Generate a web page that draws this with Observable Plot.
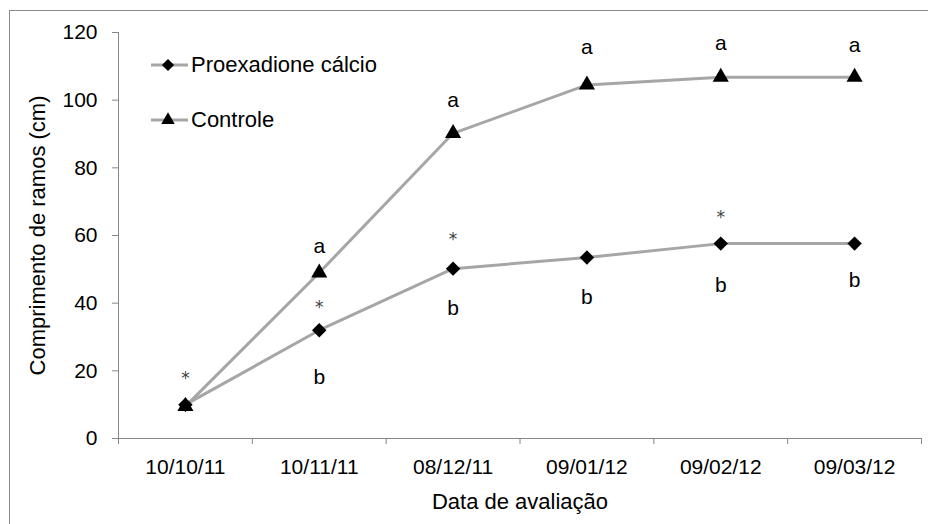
<!DOCTYPE html>
<html>
<head>
<meta charset="utf-8">
<script src="https://cdn.jsdelivr.net/npm/d3@7"></script>
<script src="https://cdn.jsdelivr.net/npm/@observablehq/plot@0.6"></script>
<style>
  html, body { margin: 0; padding: 0; background: #fff; }
  #wrap { position: relative; width: 928px; height: 524px; overflow: hidden; font-family: "Liberation Sans", Arial, sans-serif; }
  #border { position: absolute; left: 9px; top: 10px; width: 940px; height: 540px; border-left: 1px solid #8c8c8c; border-top: 1px solid #8c8c8c; }
  #chart { position: absolute; left: 0; top: 0; }
  .leg { position: absolute; left: 151px; height: 24px; display: flex; align-items: center; font-size: 22px; color: #000; white-space: nowrap; }
  .leg span { margin-left: 3px; }
</style>
</head>
<body>
<div id="wrap">
  <div id="border"></div>
  <div id="chart"></div>
  <div class="leg" id="leg1" style="top:53px"></div>
  <div class="leg" id="leg2" style="top:108px"></div>
</div>
<script>
// ---- data ----
const dates = ["10/10/11", "10/11/11", "08/12/11", "09/01/12", "09/02/12", "09/03/12"];
const proexadione = [10, 32, 50.2, 53.5, 57.6, 57.6];
const controle = [9.5, 49, 90.2, 104.5, 106.8, 106.8];
const seriesNames = ["Proexadione cálcio", "Controle"];

// significance asterisks (date, y position)
const sigDates = ["10/10/11", "10/11/11", "08/12/11", "09/02/12"];
const sigY = [19, 40, 60, 66.5];

// letters
const aDates = ["10/11/11", "08/12/11", "09/01/12", "09/02/12", "09/03/12"];
const aY = [56.8, 99.9, 115.6, 116.8, 116.2];
const bDates = ["10/11/11", "08/12/11", "09/01/12", "09/02/12", "09/03/12"];
const bY = [18, 38.4, 41.7, 45.2, 46.7];

const yTicks = [0, 20, 40, 60, 80, 100, 120];
const yLabel = "Comprimento de ramos (cm)";
const xLabel = "Data de avaliação";

// ---- build tables ----
const idx = d => dates.indexOf(d);
const rows = [];
dates.forEach((d, i) => {
  rows.push({s: seriesNames[0], i, v: proexadione[i]});
  rows.push({s: seriesNames[1], i, v: controle[i]});
});
const sig = sigDates.map((d, k) => ({i: idx(d), y: sigY[k]}));
const aLab = aDates.map((d, k) => ({i: idx(d), y: aY[k], t: "a"}));
const bLab = bDates.map((d, k) => ({i: idx(d), y: bY[k], t: "b"}));
const boundaries = d3.range(0, dates.length + 1).map(k => k - 0.5);
const centers = d3.range(0, dates.length);

const lineColor = "#a6a6a6";
const axisColor = "#868686";

const chart = Plot.plot({
  width: 928,
  height: 524,
  marginLeft: 118,
  marginRight: 7,
  marginTop: 32,
  marginBottom: 86,
  style: {fontFamily: "'Liberation Sans', Arial, sans-serif", fontSize: "21px", color: "#000", background: "transparent"},
  x: {domain: [-0.5, dates.length - 0.5], axis: null},
  y: {domain: [0, 120], axis: null},
  marks: [
    Plot.ruleX([-0.5], {stroke: axisColor, strokeWidth: 1}),
    Plot.ruleY([0], {stroke: axisColor, strokeWidth: 1}),
    Plot.axisY({ticks: yTicks, tickSize: 6, tickPadding: 15, stroke: axisColor, fill: "#000", fontSize: 21, label: null}),
    Plot.axisX({ticks: boundaries, tickSize: 6, tickFormat: () => "", stroke: axisColor, label: null}),
    Plot.axisX({ticks: centers, tickSize: 0, tickPadding: 21, tickFormat: i => dates[i], fill: "#000", fontSize: 21, label: null}),
    Plot.text([yLabel], {frameAnchor: "left", textAnchor: "middle", dx: -81, rotate: -90, fontSize: 22, fill: "#000"}),
    Plot.text([xLabel], {frameAnchor: "bottom", textAnchor: "middle", dy: 70, fontSize: 22, fill: "#000"}),
    Plot.line(rows, {x: "i", y: "v", z: "s", stroke: lineColor, strokeWidth: 3}),
    Plot.dot(rows.filter(r => r.s === seriesNames[1]), {x: "i", y: "v", symbol: "triangle", r: 6, fill: "#000", stroke: "none"}),
    Plot.dot(rows.filter(r => r.s === seriesNames[0]), {x: "i", y: "v", symbol: "diamond2", r: 6.5, fill: "#000", stroke: "none"}),
    Plot.text(sig, {x: "i", y: "y", text: () => "*", fontSize: 17, fontFamily: "'DejaVu Sans', sans-serif", dy: 4, fill: "#404040"}),
    Plot.text(aLab, {x: "i", y: "y", text: "t", fontSize: 21, fill: "#000"}),
    Plot.text(bLab, {x: "i", y: "y", text: "t", fontSize: 21, fill: "#000"})
  ]
});
document.getElementById("chart").appendChild(chart);

// ---- legend ----
function legendItem(el, name, symbol, size) {
  const svg = d3.select(el).append("svg").attr("width", 37).attr("height", 24);
  svg.append("line").attr("x1", 0).attr("x2", 37).attr("y1", 12).attr("y2", 12)
    .attr("stroke", lineColor).attr("stroke-width", 3);
  svg.append("path").attr("transform", "translate(17,12)")
    .attr("d", d3.symbol(symbol, size)()).attr("fill", "#000");
  d3.select(el).append("span").text(name);
}
legendItem(document.getElementById("leg1"), seriesNames[0], d3.symbolDiamond2, Math.PI * 5.5 * 5.5);
legendItem(document.getElementById("leg2"), seriesNames[1], d3.symbolTriangle, Math.PI * 5 * 5);
</script>
</body>
</html>
